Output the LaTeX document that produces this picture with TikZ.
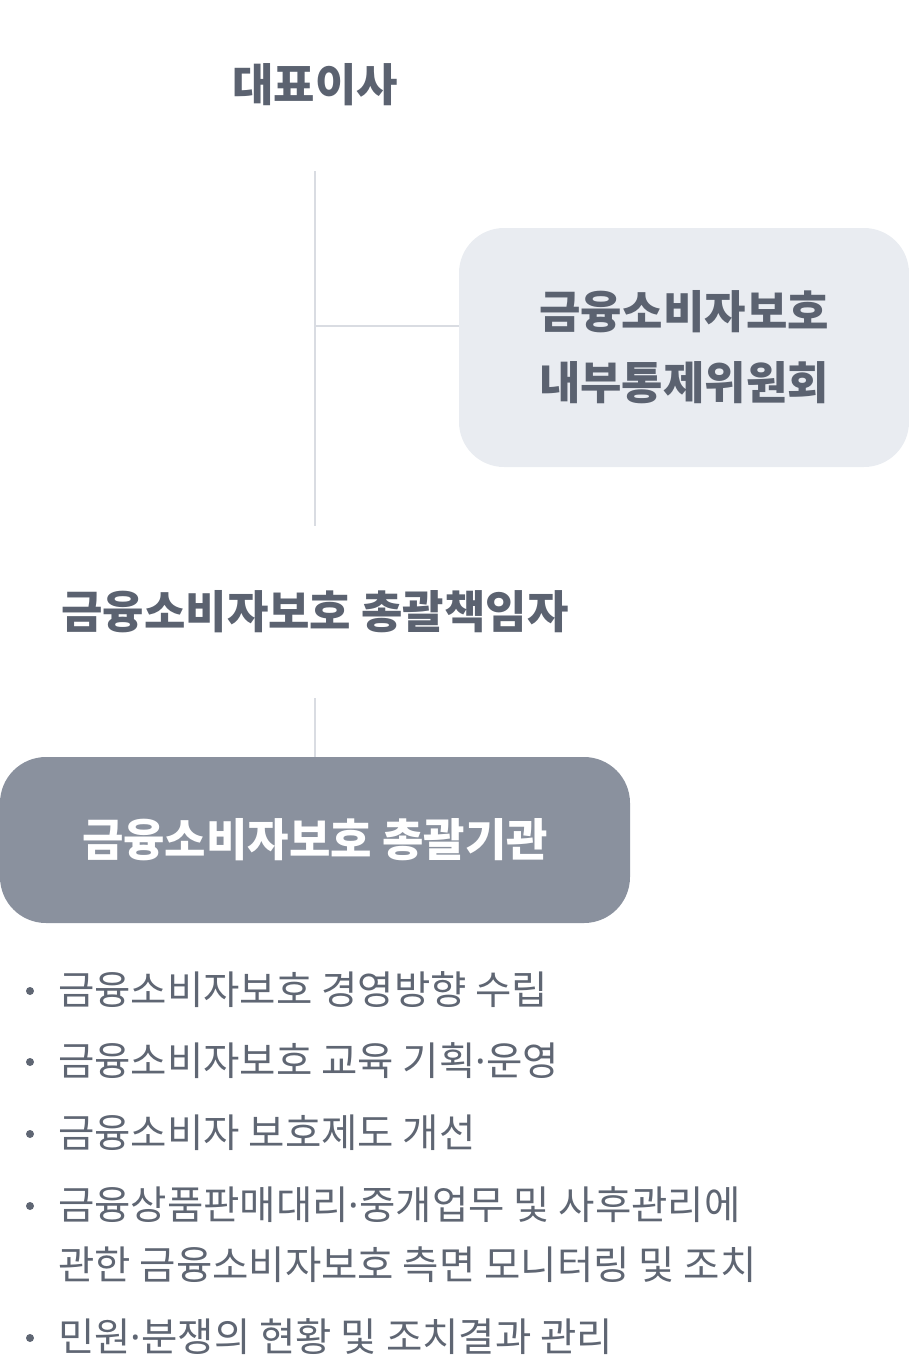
\documentclass[tikz,border=0pt]{standalone}
\usepackage{fontspec}
\setmainfont{Noto Sans CJK KR}
\newfontfamily\dotfont{Noto Sans}
\newcommand{\mdot}{{\dotfont ·}}
\usetikzlibrary{positioning}

\definecolor{inkdark}{HTML}{5B6270}
\definecolor{inktext}{HTML}{5F6673}
\definecolor{linegray}{HTML}{D9DCE2}
\definecolor{paleblue}{HTML}{E9ECF1}
\definecolor{slate}{HTML}{8A919E}

\begin{document}
\begin{tikzpicture}[
x=1pt, y=-1pt,
heading/.style={inner sep=0pt,minimum height=172pt,text=inkdark,font=\fontsize{45}{53}\selectfont\bfseries},
panel/.style={rectangle,rounded corners=45pt,fill=paleblue,minimum width=450pt,minimum height=239pt,align=center,text=inkdark,font=\fontsize{45}{71}\selectfont\bfseries},
office/.style={rectangle,rounded corners=46pt,fill=slate,minimum width=630pt,minimum height=166pt,text=white,font=\fontsize{45}{53}\selectfont\bfseries},
link/.style={draw=linegray,line width=2.5pt},
dot/.style={circle,fill=inktext,inner sep=0pt,minimum size=8pt},
item/.style={anchor=base west,inner sep=0pt,align=left,text=inktext,font=\fontsize{39.5}{60}\selectfont},
]
\useasboundingbox (0,0) rectangle (909,1368);

% Top of the chart
\node[heading] (ceo) at (315,85) {대표이사};
\node[panel] (committee) at (684,347.5) {금융소비자보호\\내부통제위원회};
\node[heading] (cpo) at (315,612) {금융소비자보호 총괄책임자};
\node[office] (dept) at (315,840) {금융소비자보호 총괄기관};

% Connectors
\coordinate (branch) at (315,326);
\draw[link] (ceo) -- (cpo);
\draw[link] (branch) -- (branch -| committee.west);
\draw[link] (cpo) -- (dept);

% Duties of the office (\y = first baseline, \b = last baseline)
\foreach \y/\b/\txt [count=\i] in {
  1004/1004/금융소비자보호 경영방향 수립,
  1075/1075/금융소비자보호 교육 기획\mdot 운영,
  1147/1147/금융소비자 보호제도 개선,
  1219/1279/{금융상품판매대리\mdot 중개업무 및 사후관리에\\관한 금융소비자보호 측면 모니터링 및 조치},
  1351/1351/민원\mdot 분쟁의 현황 및 조치결과 관리}{
  \node[item] (duty\i) at (58,\b) {\txt};
  \node[dot] (bullet\i) at (30,\y-13) {};
}
\end{tikzpicture}
\end{document}
